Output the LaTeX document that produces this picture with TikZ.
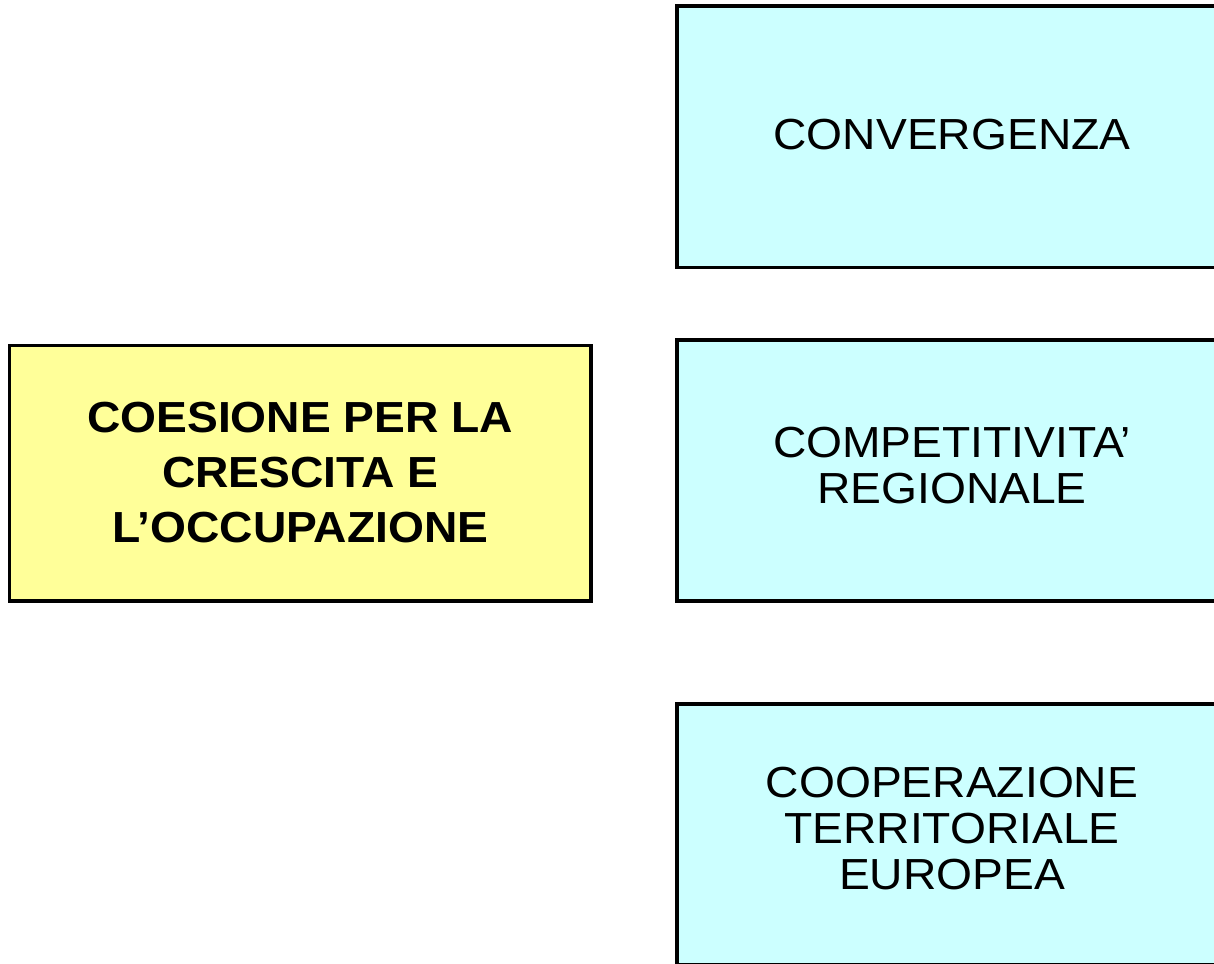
\documentclass[tikz,border=0pt]{standalone}
\usepackage{fontspec}
\setmainfont{Liberation Sans}[FakeStretch=1.062]
\definecolor{boxcyan}{HTML}{CCFFFF}
\definecolor{boxyellow}{HTML}{FFFF99}
\tikzset{
  panel/.style={draw=black, line width=3.5pt, rectangle, inner sep=0pt},
  cyanpanel/.style={panel, fill=boxcyan, minimum width=550pt, minimum height=261pt},
  yellowpanel/.style={panel, fill=boxyellow, minimum width=581.5pt, minimum height=255.5pt},
  cyantext/.style={inner sep=0pt, align=center, font=\fontsize{43.5}{46}\selectfont},
  yellowtext/.style={inner sep=0pt, align=center, font=\fontsize{43.5}{55}\selectfont\bfseries}
}
\begin{document}
\begin{tikzpicture}[x=1pt,y=-1pt]
\clip (0,0) rectangle (1214,963);
\fill[white] (0,0) rectangle (1214,963);
\node[yellowpanel] (coesione) at (300.25,473.25) {};
\node[cyanpanel] (convergenza) at (952,136.75) {};
\node[cyanpanel] (competitivita) at (952,470.5) {};
\node[cyanpanel] (cooperazione) at (952,834.5) {};
\node[yellowtext, yshift=1pt] (coesionetext) at (coesione.center) {COESIONE PER LA\\CRESCITA E\\L’OCCUPAZIONE};
\node[cyantext, yshift=2pt] (convergenzatext) at (convergenza.center) {CONVERGENZA};
\node[cyantext, yshift=4.5pt] (competitivitatext) at (competitivita.center) {COMPETITIVITA’\\REGIONALE};
\node[cyantext, yshift=5.5pt] (cooperazionetext) at (cooperazione.center) {COOPERAZIONE\\TERRITORIALE\\EUROPEA};
\end{tikzpicture}
\end{document}
